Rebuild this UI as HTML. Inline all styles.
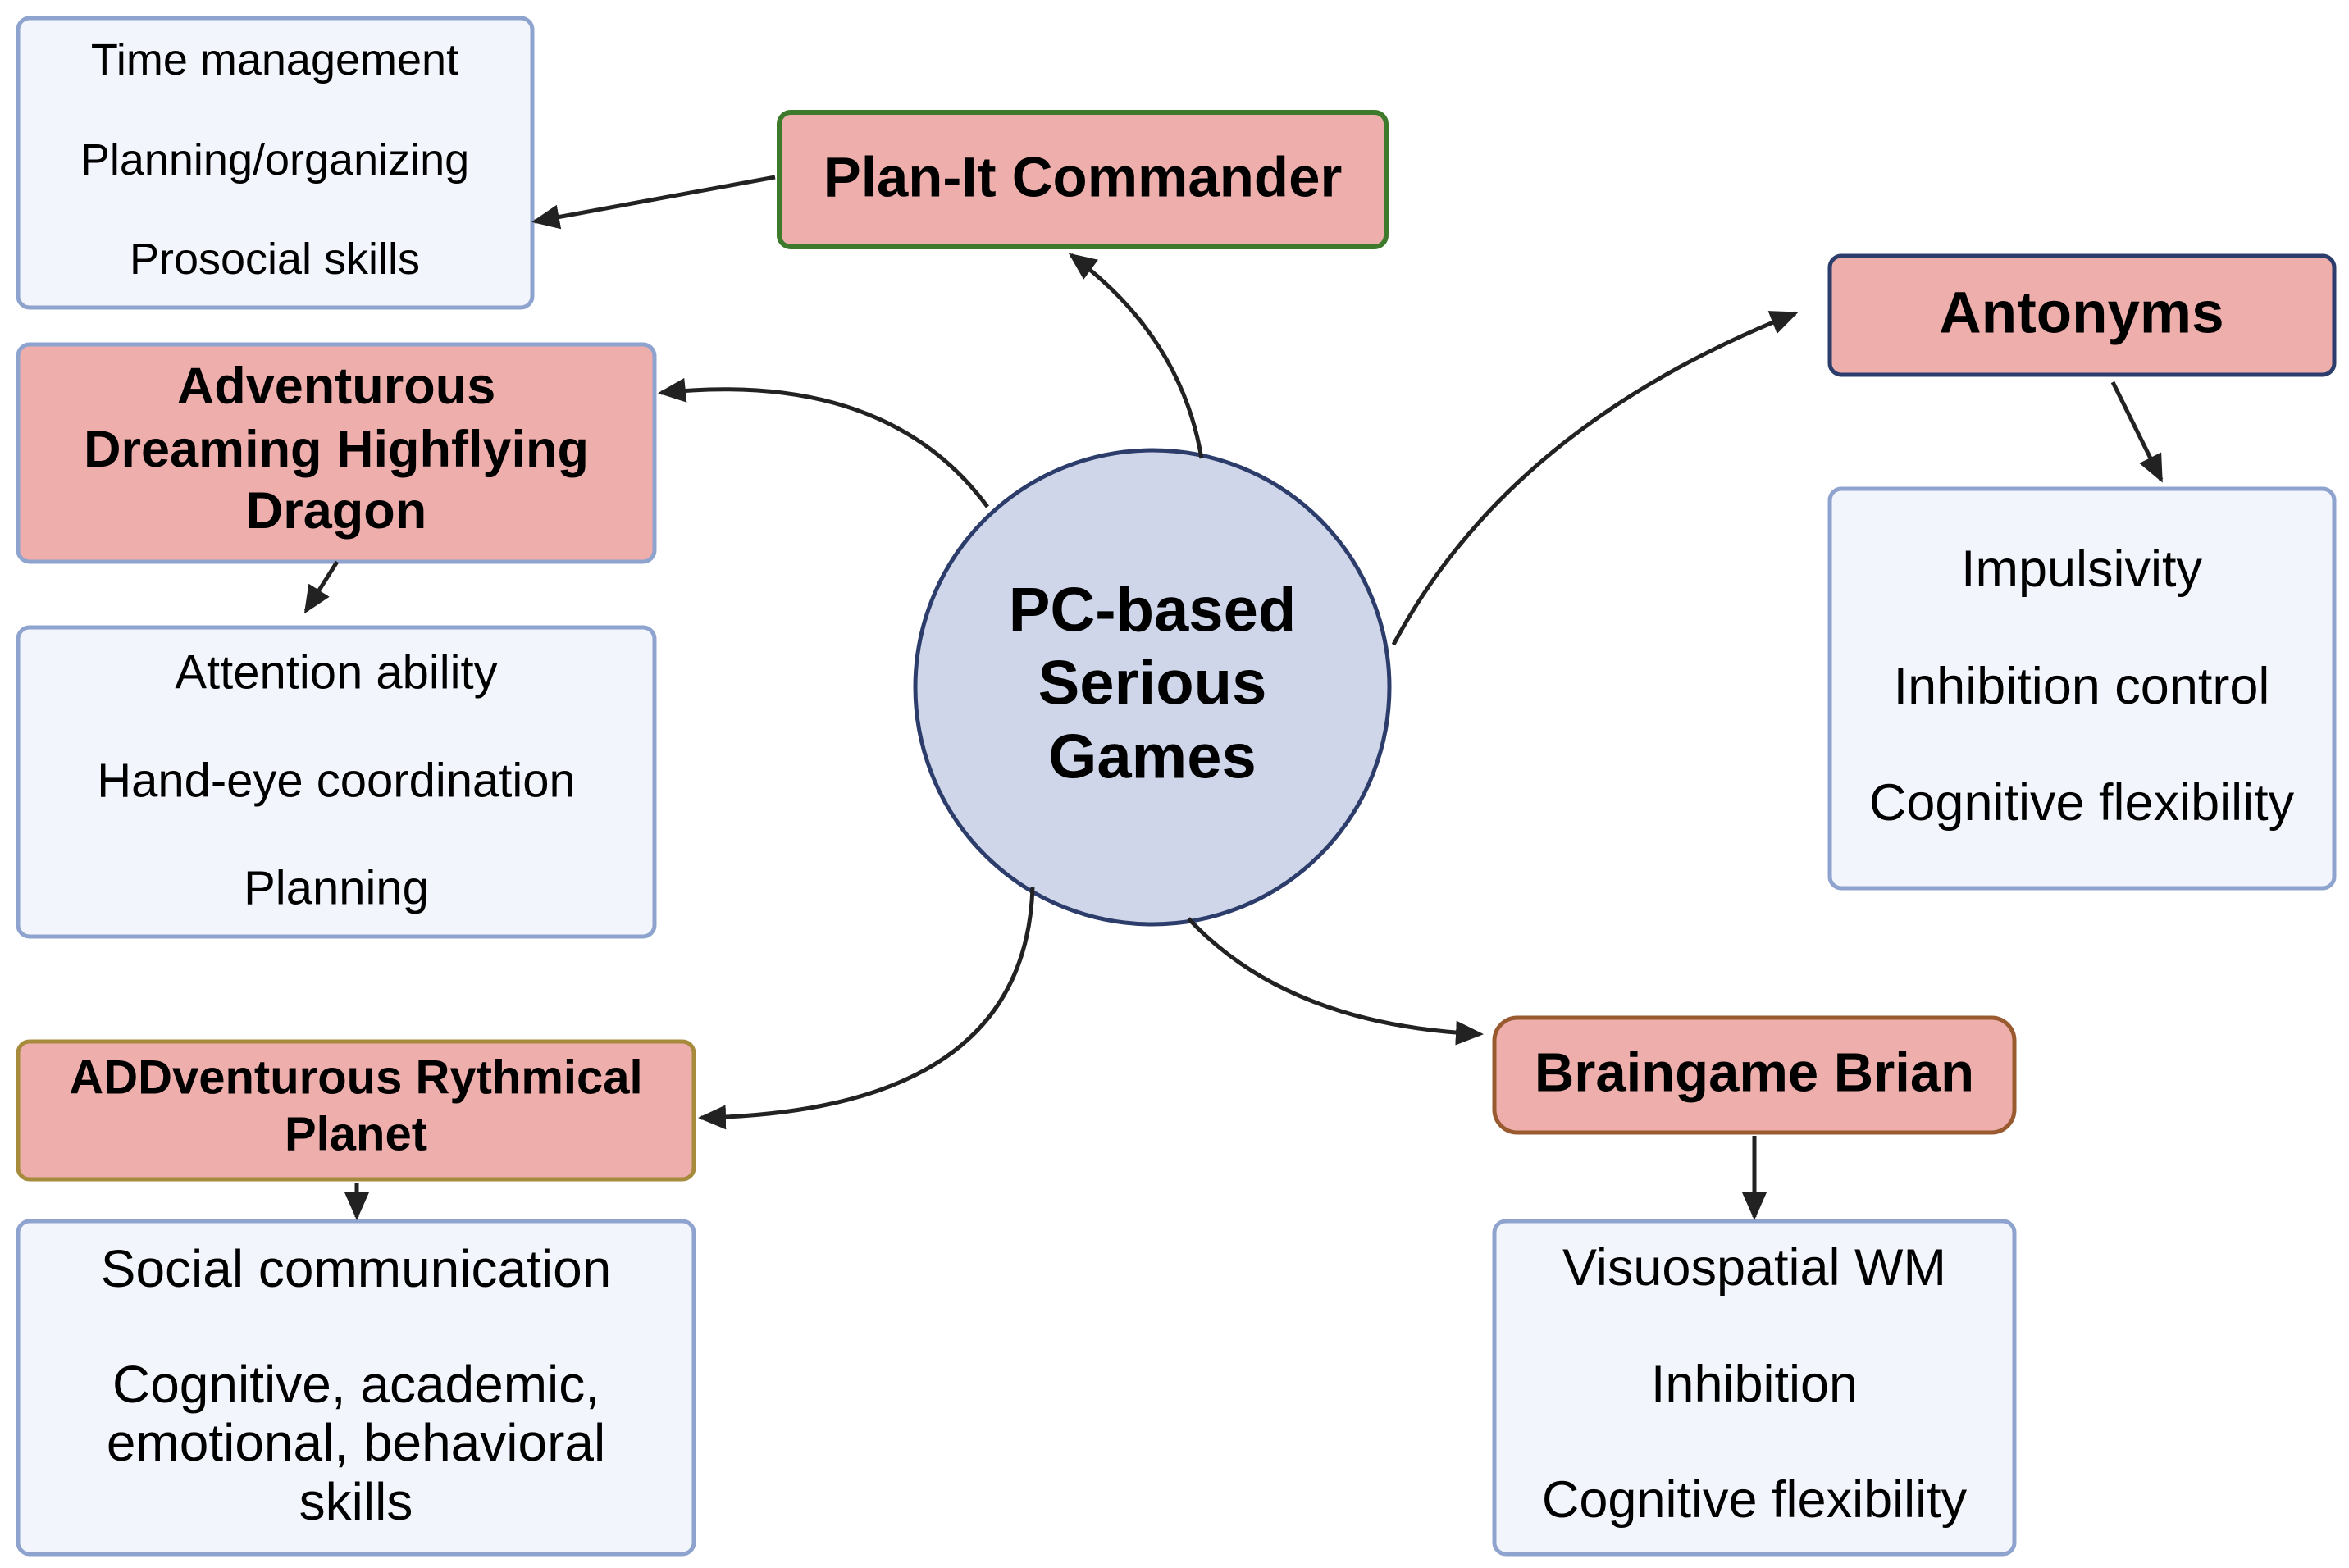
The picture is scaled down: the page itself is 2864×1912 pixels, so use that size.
<!DOCTYPE html>
<html><head><meta charset="utf-8"><style>
html,body{margin:0;padding:0;background:#fff;}
svg{display:block;}
text{font-family:"Liberation Sans",sans-serif;fill:#000;text-anchor:middle;dominant-baseline:central;}
.b{font-weight:bold;}
</style></head><body>
<svg width="2864" height="1912" viewBox="0 0 2864 1912" xmlns="http://www.w3.org/2000/svg">
<defs>
<marker id="a" markerUnits="userSpaceOnUse" markerWidth="34" markerHeight="30" refX="30" refY="15" orient="auto">
<path d="M0,0 L34,15 L0,30 Z" fill="#222"/>
</marker>
</defs>
<rect x="22" y="22" width="627" height="353" rx="14" fill="#f2f5fb" stroke="#8fa3cf" stroke-width="5"/>
<text x="335" y="73" font-size="54">Time management</text>
<text x="335" y="195" font-size="54">Planning/organizing</text>
<text x="335" y="316" font-size="54">Prosocial skills</text>

<rect x="950" y="137" width="740" height="164" rx="14" fill="#eeaeac" stroke="#3d7a2c" stroke-width="6"/>
<text class="b" x="1320" y="216" font-size="69">Plan-It Commander</text>

<rect x="22" y="420" width="776" height="265" rx="14" fill="#eeaeac" stroke="#8fa3cf" stroke-width="5"/>
<text class="b" x="410" y="471" font-size="63">Adventurous</text>
<text class="b" x="410" y="548" font-size="63">Dreaming Highflying</text>
<text class="b" x="410" y="623" font-size="63">Dragon</text>

<rect x="22" y="765" width="776" height="377" rx="14" fill="#f2f5fb" stroke="#8fa3cf" stroke-width="5"/>
<text x="410" y="820" font-size="58">Attention ability</text>
<text x="410" y="952" font-size="58">Hand-eye coordination</text>
<text x="410" y="1083" font-size="58">Planning</text>

<rect x="22" y="1270" width="824" height="168" rx="14" fill="#eeaeac" stroke="#a68b3c" stroke-width="5"/>
<text class="b" x="434" y="1314" font-size="58">ADDventurous Rythmical</text>
<text class="b" x="434" y="1383" font-size="58">Planet</text>

<rect x="22" y="1489" width="824" height="406" rx="14" fill="#f2f5fb" stroke="#8fa3cf" stroke-width="5"/>
<text x="434" y="1547" font-size="64">Social communication</text>
<text x="434" y="1688" font-size="64">Cognitive, academic,</text>
<text x="434" y="1759" font-size="64">emotional, behavioral</text>
<text x="434" y="1831" font-size="64">skills</text>

<rect x="2231" y="312" width="615" height="145" rx="14" fill="#eeaeac" stroke="#2c3d6b" stroke-width="5"/>
<text class="b" x="2538" y="382" font-size="71">Antonyms</text>

<rect x="2231" y="596" width="615" height="487" rx="14" fill="#f2f5fb" stroke="#8fa3cf" stroke-width="5"/>
<text x="2538" y="694" font-size="63">Impulsivity</text>
<text x="2538" y="837" font-size="63">Inhibition control</text>
<text x="2538" y="979" font-size="63">Cognitive flexibility</text>

<rect x="1822" y="1241" width="634" height="140" rx="28" fill="#eeaeac" stroke="#9a5a30" stroke-width="5"/>
<text class="b" x="2139" y="1308" font-size="67">Braingame Brian</text>

<rect x="1822" y="1489" width="634" height="406" rx="14" fill="#f2f5fb" stroke="#8fa3cf" stroke-width="5"/>
<text x="2139" y="1546" font-size="63">Visuospatial WM</text>
<text x="2139" y="1688" font-size="63">Inhibition</text>
<text x="2139" y="1829" font-size="63">Cognitive flexibility</text>

<circle cx="1405" cy="838" r="289" fill="#cfd6e9" stroke="#2c3d6b" stroke-width="5"/>
<text class="b" x="1405" y="744" font-size="76">PC-based</text>
<text class="b" x="1405" y="833" font-size="76">Serious</text>
<text class="b" x="1405" y="923" font-size="76">Games</text>

<g fill="none" stroke="#222" stroke-width="5" marker-end="url(#a)">
<path d="M945,216 L652,270"/>
<path d="M1465,559 Q1440,410 1306,311"/>
<path d="M1204,618 Q1080,450 806,479"/>
<path d="M411,685 L373,745"/>
<path d="M1699,786 Q1840,520 2189,382"/>
<path d="M2576,466 L2635,585"/>
<path d="M1259,1082 Q1250,1355 855,1363"/>
<path d="M435,1443 L435,1484"/>
<path d="M1449,1120 Q1570,1250 1805,1261"/>
<path d="M2139,1385 L2139,1484"/>
</g>
</svg>
</body></html>
